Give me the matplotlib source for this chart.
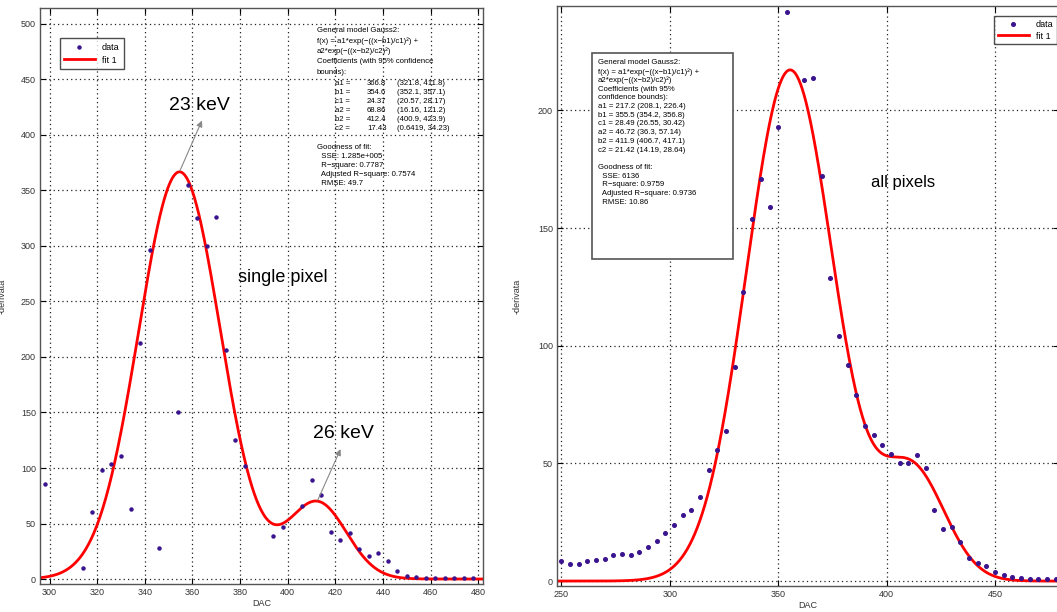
import numpy as np
import matplotlib
matplotlib.use("Agg")
import matplotlib.pyplot as plt
from matplotlib.patches import Rectangle

# ---------------- data: single pixel (left) ----------------
left_dac = [298, 314, 318, 322, 326, 330, 334, 338, 342, 346, 354, 358, 362, 366, 370,
            374, 378, 382, 394, 398, 406, 410, 414, 418, 422, 426, 430, 434, 438, 442,
            446, 450, 454, 458, 462, 466, 470, 474, 478]
left_val = [86, 10, 60, 98, 104, 111, 63, 213, 296, 28, 150, 355, 325, 300, 326,
            206, 125, 102, 39, 47, 66, 89, 76, 42, 35, 41, 27, 21, 23, 16,
            7, 3, 2, 1, 1, 1, 0.5, 0.5, 0.5]
left_coef = [366.8, 354.6, 24.37, 68.86, 412.4, 17.43]   # a1 b1 c1 a2 b2 c2

# ---------------- data: all pixels (right) ----------------
right_dac = [250, 254, 258, 262, 266, 270, 274, 278, 282, 286, 290, 294, 298, 302, 306,
             310, 314, 318, 322, 326, 330, 334, 338, 342, 346, 350, 354, 362, 366, 370,
             374, 378, 382, 386, 390, 394, 398, 402, 406, 410, 414, 418, 422, 426, 430,
             434, 438, 442, 446, 450, 454, 458, 462, 466, 470, 474, 478]
right_val = [8.4, 7.1, 7.1, 8.4, 8.8, 9.3, 10.9, 11.6, 10.9, 12.2, 14.3, 17.1, 20.3, 23.9, 28.2,
             30.3, 35.6, 47.3, 55.5, 63.9, 91, 123, 154, 171, 159, 193, 242, 213, 214, 172,
             129, 104, 92, 79, 66, 62, 58, 54, 50, 50, 53.5, 48, 30, 22, 23,
             16.4, 9.9, 7.7, 6.4, 3.7, 2.5, 1.8, 1.4, 1.0, 0.7, 0.7, 0.7]
right_coef = [217.2, 355.5, 28.49, 46.72, 411.9, 21.42]

left_xticks = [300, 320, 340, 360, 380, 400, 420, 440, 460, 480]
left_yticks = [0, 50, 100, 150, 200, 250, 300, 350, 400, 450, 500]
right_xticks = [250, 300, 350, 400, 450]
right_yticks = [0, 50, 100, 150, 200]

left_box = ["General model Gauss2:",
            "f(x) = a1*exp(\u2212((x\u2212b1)/c1)\u00b2) +",
            "a2*exp(\u2212((x\u2212b2)/c2)\u00b2)",
            "Coefficients (with 95% confidence",
            "bounds):"]
left_coef_rows = [("a1 =", "366.8", "(321.8, 411.8)"),
                  ("b1 =", "354.6", "(352.1, 357.1)"),
                  ("c1 =", "24.37", "(20.57, 28.17)"),
                  ("a2 =", "68.86", "(16.16, 121.2)"),
                  ("b2 =", "412.4", "(400.9, 423.9)"),
                  ("c2 =", "17.43", "(0.6419, 34.23)")]
left_gof = ["Goodness of fit:", "  SSE: 1.285e+005", "  R\u2212square: 0.7787",
            "  Adjusted R\u2212square: 0.7574", "  RMSE: 49.7"]

right_box = ["General model Gauss2:",
             "f(x) = a1*exp(\u2212((x\u2212b1)/c1)\u00b2) +",
             "a2*exp(\u2212((x\u2212b2)/c2)\u00b2)",
             "Coefficients (with 95%",
             "confidence bounds):",
             "a1 = 217.2 (208.1, 226.4)",
             "b1 = 355.5 (354.2, 356.8)",
             "c1 = 28.49 (26.55, 30.42)",
             "a2 = 46.72 (36.3, 57.14)",
             "b2 = 411.9 (406.7, 417.1)",
             "c2 = 21.42 (14.19, 28.64)",
             "",
             "Goodness of fit:",
             "  SSE: 6136",
             "  R\u2212square: 0.9759",
             "  Adjusted R\u2212square: 0.9736",
             "  RMSE: 10.86"]

W, H = 1057, 612
fig = plt.figure(figsize=(W / 100, H / 100), dpi=100)
plt.rcParams['font.family'] = ['Liberation Sans', 'DejaVu Sans']

DOT = '#3a148f'
RED = '#ff0000'


def gauss2(x, c):
    a1, b1, c1, a2, b2, c2 = c
    return a1 * np.exp(-((x - b1) / c1) ** 2) + a2 * np.exp(-((x - b2) / c2) ** 2)


def px_axes(l, t, r, b):
    return fig.add_axes([l / W, 1 - b / H, (r - l) / W, (b - t) / H])


def style(ax):
    ax.grid(True, color='#222222', linestyle=(0, (1, 2.5)), linewidth=0.9)
    ax.tick_params(direction='in', length=4, width=0.8, labelsize=6.5,
                   labelcolor='#333333', top=True, right=True, pad=3)
    for s in ax.spines.values():
        s.set_color('#555555')
        s.set_linewidth(1.0)


def fx(x):
    return x / W


def fy(y):
    return 1 - y / H


# ---------------- left ----------------
ax1 = px_axes(40, 8, 483, 584)
xs = np.linspace(296, 482, 600)
ax1.plot(left_dac, left_val, 'o', color=DOT, markersize=2.2, label='data', zorder=3)
ax1.plot(xs, gauss2(xs, left_coef), color=RED, lw=2.0, label='fit 1', zorder=2)
ax1.set_xlim(296, 482)
ax1.set_ylim(-4.5, 514.4)
ax1.set_xticks(left_xticks)
ax1.set_yticks(left_yticks)
style(ax1)
ax1.set_xlabel('DAC', fontsize=6.5, color='#333333', labelpad=1)
ax1.set_ylabel('-derivata', fontsize=6.5, color='#333333', labelpad=10)
leg1 = ax1.legend(loc='upper left', bbox_to_anchor=(0.034, 0.955), fontsize=6.5,
                  frameon=True, fancybox=False, edgecolor='#222222', handlelength=3.4,
                  borderpad=0.5, labelspacing=0.4, markerscale=1.0, numpoints=1)
leg1.get_frame().set_linewidth(1.0)

ax1.annotate('', xy=(364, 413), xytext=(354.8, 368),
             arrowprops=dict(arrowstyle='-|>', color='#888888', lw=0.8,
                             mutation_scale=9, shrinkA=0, shrinkB=0))
ax1.annotate('', xy=(422.2, 117), xytext=(412.6, 71),
             arrowprops=dict(arrowstyle='-|>', color='#888888', lw=0.8,
                             mutation_scale=9, shrinkA=0, shrinkB=0))
ax1.text(362.8, 427, '23 keV', fontsize=14, ha='center', va='center')
ax1.text(423.4, 131, '26 keV', fontsize=14, ha='center', va='center')
ax1.text(397.9, 272, 'single pixel', fontsize=13, ha='center', va='center')

fs = 5.6
y0 = 31
for i, line in enumerate(left_box):
    fig.text(fx(317), fy(y0 + i * 10.3), line, fontsize=fs, va='center')
yc = y0 + 5 * 10.3 + 1
for i, (n, v, ci) in enumerate(left_coef_rows):
    yy = fy(yc + i * 9.0)
    fig.text(fx(335), yy, n, fontsize=fs, va='center')
    fig.text(fx(367), yy, v, fontsize=fs, va='center')
    fig.text(fx(397), yy, ci, fontsize=fs, va='center')
yg = yc + 6 * 9.0 + 10
for i, line in enumerate(left_gof):
    fig.text(fx(317), fy(yg + i * 9.0), line, fontsize=fs, va='center')

# ---------------- right ----------------
ax2 = px_axes(557, 6, 1059, 586)
xs2 = np.linspace(248, 480, 600)
ax2.plot(right_dac, right_val, 'o', color=DOT, markersize=2.6, label='data', zorder=3)
ax2.plot(xs2, gauss2(xs2, right_coef), color=RED, lw=2.0, label='fit 1', zorder=2)
ax2.set_xlim(248, 479.5)
ax2.set_ylim(-2.1, 244.4)
ax2.set_xticks(right_xticks)
ax2.set_yticks(right_yticks)
style(ax2)
ax2.set_xlabel('DAC', fontsize=6.5, color='#333333', labelpad=1)
ax2.set_ylabel('-derivata', fontsize=6.5, color='#333333', labelpad=12)
leg2 = ax2.legend(loc='upper left', bbox_to_anchor=(0.862, 0.99), fontsize=6.5,
                  frameon=True, fancybox=False, edgecolor='#222222', handlelength=3.4,
                  borderpad=0.4, labelspacing=0.3, numpoints=1)
leg2.get_frame().set_linewidth(1.0)
ax2.text(407.4, 169.6, 'all pixels', fontsize=12, ha='center', va='center')

fig.patches.append(Rectangle((fx(592), fy(259)), (733 - 592) / W, (259 - 53) / H,
                             transform=fig.transFigure, fill=True, facecolor='white',
                             edgecolor='#555555', linewidth=1.2, zorder=5))
for i, line in enumerate(right_box):
    fig.text(fx(598), fy(63 + i * 8.7), line, fontsize=fs, va='center', zorder=6)

fig.savefig('out.png', dpi=100)
